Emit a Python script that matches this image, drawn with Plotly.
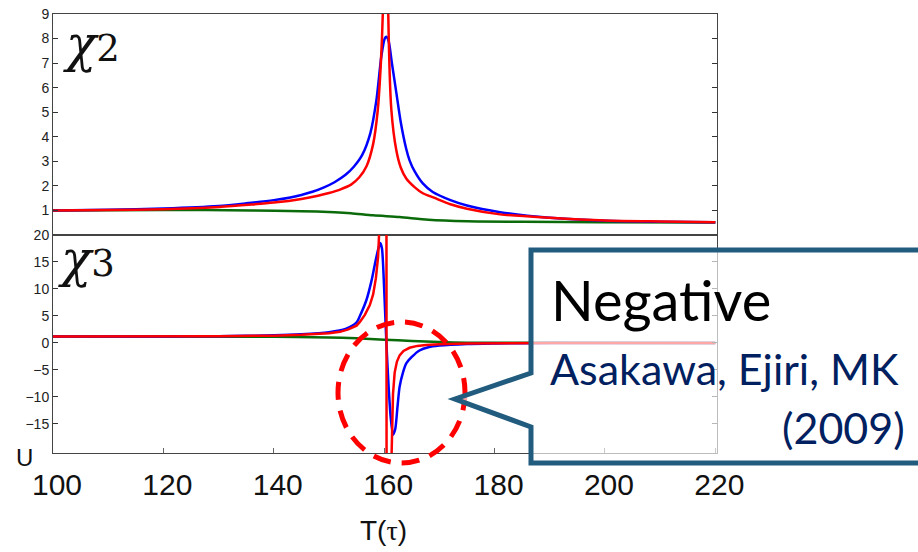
import plotly.graph_objects as go

W, H = 918, 552

# ---------------- data: chi2 (top panel) ----------------
t2_blue = [100, 110, 120, 130, 135, 140, 143, 145, 147, 149, 151, 153, 154.5, 156, 157.5, 158.6, 159.5,
           160.1, 160.4, 160.8, 161.4, 162.2, 163, 164, 164.6, 165.5, 167, 168.8, 172, 175, 181, 190,
           200, 210, 220]
chi2_blue = [1.0, 1.03, 1.08, 1.18, 1.29, 1.42, 1.53, 1.63, 1.76, 1.93, 2.15, 2.45, 2.78, 3.25, 4.15,
             5.5, 7.3, 8.0, 8.07, 7.9, 7.0, 5.8, 4.6, 3.5, 3.04, 2.6, 2.1, 1.75, 1.42, 1.2, 0.93, 0.7,
             0.58, 0.54, 0.52]

t2_red = [100, 110, 120, 130, 136, 140, 145, 148, 150, 152, 154, 155.5, 156.8, 158, 158.8, 159.4,
          159.8, 160.2, 160.7, 161.3, 162.2, 163, 164, 165.5, 167, 169, 172, 175, 181, 190, 200,
          210, 220]
chi2_red = [1.0, 1.02, 1.05, 1.14, 1.24, 1.32, 1.47, 1.6, 1.71, 1.85, 2.05, 2.35, 2.8, 3.7, 5.0, 7.0,
            9.5, 40, 9.5, 5.1, 3.45, 2.75, 2.3, 1.95, 1.7, 1.52, 1.25, 1.07, 0.84, 0.7, 0.59,
            0.55, 0.52]

t2_green = [100, 120, 136, 145, 151, 154, 158, 162.8, 168, 175, 185, 199, 220]
chi2_green = [1.0, 1.02, 1.0, 0.97, 0.93, 0.89, 0.8, 0.73, 0.62, 0.56, 0.54, 0.52, 0.51]

# ---------------- data: chi3 (bottom panel) ----------------
t3_blue = [100, 120, 130, 140, 145, 150, 153, 155, 155.6, 156.8, 157.7, 158.3, 158.9, 159.3, 159.6,
           160.0, 160.4, 160.8, 161.2, 161.6, 162.0, 162.4, 162.8, 163.4, 164.0, 165, 166.4, 168,
           170, 175, 180, 190, 200, 220]
chi3_blue = [1.2, 1.2, 1.25, 1.4, 1.6, 2.0, 2.6, 3.8, 5.0, 8.0, 11.5, 14.5, 17.3, 18.5, 17.5,
             10, 0, -8, -14, -17, -16, -12, -8.1, -5.5, -3.8, -2.6, -1.4, -0.8,
             -0.5, -0.2, -0.1, 0, 0, 0]

t3_red = [100, 120, 130, 140, 145, 150, 152, 153.5, 155, 155.6, 156.5, 157.4, 158.0, 158.5, 158.9,
          159.5, 160.4, 160.45, 161.25, 161.4, 161.6, 161.9, 162.3, 162.8, 163.5, 164.6, 166,
          167.6, 170, 175, 180, 190, 200, 220]
chi3_red = [1.2, 1.2, 1.25, 1.35, 1.5, 1.8, 2.05, 2.5, 3.2, 3.9, 5.2, 7.0, 9.0, 12, 16,
            30, 60, -60, -22, -14, -9.5, -5.5, -3.5, -2.3, -1.5, -0.9, -0.55,
            -0.4, -0.25, -0.1, -0.05, 0, 0, 0]

t3_green = [100, 140, 150, 155, 160, 165, 170, 175, 180, 220]
chi3_green = [1.2, 1.15, 1.0, 0.85, 0.6, 0.35, 0.15, 0.05, 0.02, 0.0]

x_ticks = [100, 120, 140, 160, 180, 200, 220]
y2_ticks = [1, 2, 3, 4, 5, 6, 7, 8, 9]
y3_ticks = [-15, -10, -5, 0, 5, 10, 15, 20]

BLUE, RED, GREEN = "#0000ff", "#ff0000", "#0b6b0b"
LW = 2.5


def px(x):
    return x / W


def py(y):
    return 1 - y / H


fig = go.Figure()
for t, v, c, shp in [(t2_green, chi2_green, GREEN, "spline"), (t2_blue, chi2_blue, BLUE, "spline"),
                     (t2_red, chi2_red, RED, "spline")]:
    fig.add_trace(go.Scatter(x=t, y=v, mode="lines", line=dict(color=c, width=LW, shape=shp, smoothing=0.7),
                             xaxis="x", yaxis="y", showlegend=False, hoverinfo="skip"))
for t, v, c, shp in [(t3_green, chi3_green, GREEN, "spline"), (t3_blue, chi3_blue, BLUE, "spline"),
                     (t3_red, chi3_red, RED, "linear")]:
    fig.add_trace(go.Scatter(x=t, y=v, mode="lines", line=dict(color=c, width=LW, shape=shp, smoothing=0.7),
                             xaxis="x2", yaxis="y2", showlegend=False, hoverinfo="skip"))

AX = "#444444"
tickfont = dict(family="Liberation Sans, Arial, sans-serif", size=14, color="#222222")
xdom = [px(53), px(717)]

fig.update_layout(
    template="none",
    width=W, height=H, margin=dict(l=0, r=0, t=0, b=0, pad=0),
    paper_bgcolor="white", plot_bgcolor="rgba(0,0,0,0)",
    xaxis=dict(domain=xdom, range=[100, 220.3], anchor="y", showline=True, linecolor=AX,
               linewidth=1, mirror=True, ticks="", showticklabels=False, showgrid=False,
               zeroline=False, automargin=False),
    yaxis=dict(domain=[py(235), py(14)], range=[0, 9], anchor="x", showline=True, linecolor=AX,
               linewidth=1, mirror="ticks", ticks="inside", ticklen=5, tickcolor="#333",
               tickvals=y2_ticks, tickfont=tickfont, showgrid=False, zeroline=False,
               automargin=False),
    xaxis2=dict(domain=xdom, range=[100, 220.3], anchor="y2", showline=True, linecolor=AX,
                linewidth=1, mirror=True, ticks="inside", ticklen=5, tickcolor="#666",
                tickvals=x_ticks, showgrid=False, zeroline=False, automargin=False,
                tickfont=dict(family="Liberation Sans, Arial, sans-serif", size=30, color="#111"),
                ticklabelstandoff=5, ticklabelshift=4),
    yaxis2=dict(domain=[py(453), py(235)], range=[-20.4, 20], anchor="x2", showline=True,
                linecolor=AX, linewidth=1, mirror="ticks", ticks="inside", ticklen=5,
                tickcolor="#333", tickvals=y3_ticks, tickfont=tickfont, showgrid=False,
                zeroline=False, automargin=False),
)

# dashed ellipse
fig.add_shape(type="circle", xref="paper", yref="paper",
              x0=px(338), x1=px(465), y0=py(463), y1=py(322),
              line=dict(color="#ff0000", width=5, dash="18px,11px"))

# callout
pts = [(531, 250), (935, 250), (935, 463), (531, 463), (531, 427), (455, 399), (531, 373)]
path = "M " + " L ".join(f"{px(a):.5f},{py(b):.5f}" for a, b in pts) + " Z"
fig.add_shape(type="path", xref="paper", yref="paper", path=path,
              line=dict(color="#215C7F", width=5), fillcolor="rgba(255,255,255,0.65)")

CHI_FONT = "DejaVu Serif, Liberation Serif, serif"
CHI = "<span style='font-size:50px'><i>χ</i></span>"
ann = [
    dict(text=CHI + "2", x=px(61), y=py(44), xanchor="left", yanchor="middle",
         font=dict(family=CHI_FONT, size=37, color="#111")),
    dict(text=CHI + "3", x=px(56), y=py(259), xanchor="left", yanchor="middle",
         font=dict(family=CHI_FONT, size=37, color="#111")),
    dict(text="U", x=px(24), y=py(457), xanchor="center", yanchor="middle",
         font=dict(family="Liberation Sans, Arial, sans-serif", size=24, color="#111")),
    dict(text="T(<span style='font-family:Liberation Serif'>τ</span>)", x=px(383), y=py(530),
         xanchor="center", yanchor="middle",
         font=dict(family="Liberation Sans, Arial, sans-serif", size=28, color="#111")),
    dict(text="Negative", x=px(549), y=py(299), xanchor="left", yanchor="middle",
         font=dict(family="Lato, sans-serif", size=56, color="#000000")),
    dict(text="Asakawa, Ejiri, MK", x=px(548), y=py(368), xanchor="left", yanchor="middle",
         font=dict(family="Lato, sans-serif", size=43, color="#002060")),
    dict(text="(2009)", x=px(907), y=py(427), xanchor="right", yanchor="middle",
         font=dict(family="Lato, sans-serif", size=43, color="#002060")),
]
for a in ann:
    fig.add_annotation(xref="paper", yref="paper", showarrow=False, **a)

fig.write_html("out.html")
